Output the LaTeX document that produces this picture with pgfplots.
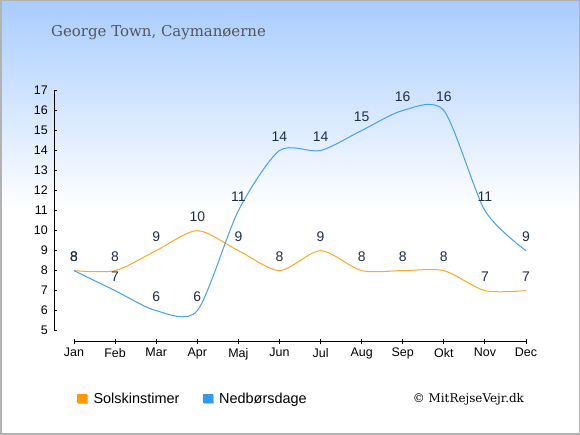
\documentclass[border=0pt]{standalone}
\usepackage{pgfplots}
\pgfplotsset{compat=1.18}
\usepackage{fontspec}
\setmainfont{Liberation Sans}
\newfontfamily\titlefont{DejaVu Serif}
\definecolor{sun}{RGB}{255,168,40}
\definecolor{rain}{RGB}{70,160,240}
\definecolor{legsun}{RGB}{255,153,0}
\definecolor{legrain}{RGB}{51,153,238}
\definecolor{bgtop}{RGB}{168,204,255}
\definecolor{titlegray}{RGB}{85,85,85}
\definecolor{labelc}{RGB}{30,45,75}
\begin{document}
\begin{tikzpicture}[x=1bp,y=1bp]
\useasboundingbox (0,0) rectangle (580,435);
\fill[white] (0,0) rectangle (580,435);
\shade[top color=bgtop, bottom color=white] (0,225) rectangle (580,435);
\draw[black!30, line width=1.5bp] (0.75,0.75) rectangle (579.25,434.25);
\node[anchor=base west, font=\titlefont\fontsize{15}{18}\selectfont, text=titlegray, inner sep=0] at (51,398.3) {George Town, Caymanøerne};
\begin{axis}[
  at={(54.3bp,93.3bp)}, anchor=south west,
  scale only axis, width=471.7bp, height=251.2bp,
  xmin=-0.48, xmax=11, ymin=4.45, ymax=17,
  axis line style={draw=none},
  clip=false,
  xtick={0,...,11},
  xticklabels={Jan,Feb,Mar,Apr,Maj,Jun,Jul,Aug,Sep,Okt,Nov,Dec},
  ytick={5,...,17},
  tick pos=left,
  major tick length=5bp,
  xtick style={black, line width=0.9bp},
  ytick style={black, line width=0.9bp},
  x tick style={/pgfplots/tick align=center},
  y tick style={/pgfplots/major tick length=3bp},
  ticklabel style={font=\fontsize{12.5}{14}\selectfont},
  xticklabel style={yshift=-3bp},
  yticklabel style={xshift=-3bp},
  /pgf/number format/assume math mode=true,
  nodes near coords,
  every node near coord/.append style={anchor=center, yshift=13.5bp, inner sep=0pt, font=\fontsize{14}{16}\selectfont, text=labelc},
]
\draw[black, line width=0.9bp] (axis cs:-0.48,5) -- (axis cs:-0.48,17);
\draw[black, line width=0.9bp] (axis cs:0,4.45) -- (axis cs:11,4.45);
\addplot[sun, line width=1bp, smooth, tension=0.45, no markers] coordinates {
(0,8) (1,8) (2,9) (3,10) (4,9) (5,8) (6,9) (7,8) (8,8) (9,8) (10,7) (11,7)};
\addplot[rain, line width=1bp, smooth, tension=0.45, no markers] coordinates {
(0,8) (1,7) (2,6) (3,6) (4,11) (5,14) (6,14) (7,15) (8,16) (9,16) (10,11) (11,9)};
\end{axis}
\fill[black!25] (78,30.6) rectangle (87.5,39.6);
\fill[legsun] (77,31.6) rectangle (86.5,40.6);
\node[anchor=base west, font=\fontsize{14.5}{17}\selectfont, inner sep=0] at (93.3,31.7) {Solskinstimer};
\fill[black!25] (204,30.6) rectangle (213.5,39.6);
\fill[legrain] (203,31.6) rectangle (212.5,40.6);
\node[anchor=base west, font=\fontsize{14.5}{17}\selectfont, inner sep=0] at (219,31.7) {Nedbørsdage};
\node[anchor=base west, font=\titlefont\fontsize{12}{14}\selectfont, inner sep=0] at (412.7,32.7) {© MitRejseVejr.dk};
\end{tikzpicture}
\end{document}
